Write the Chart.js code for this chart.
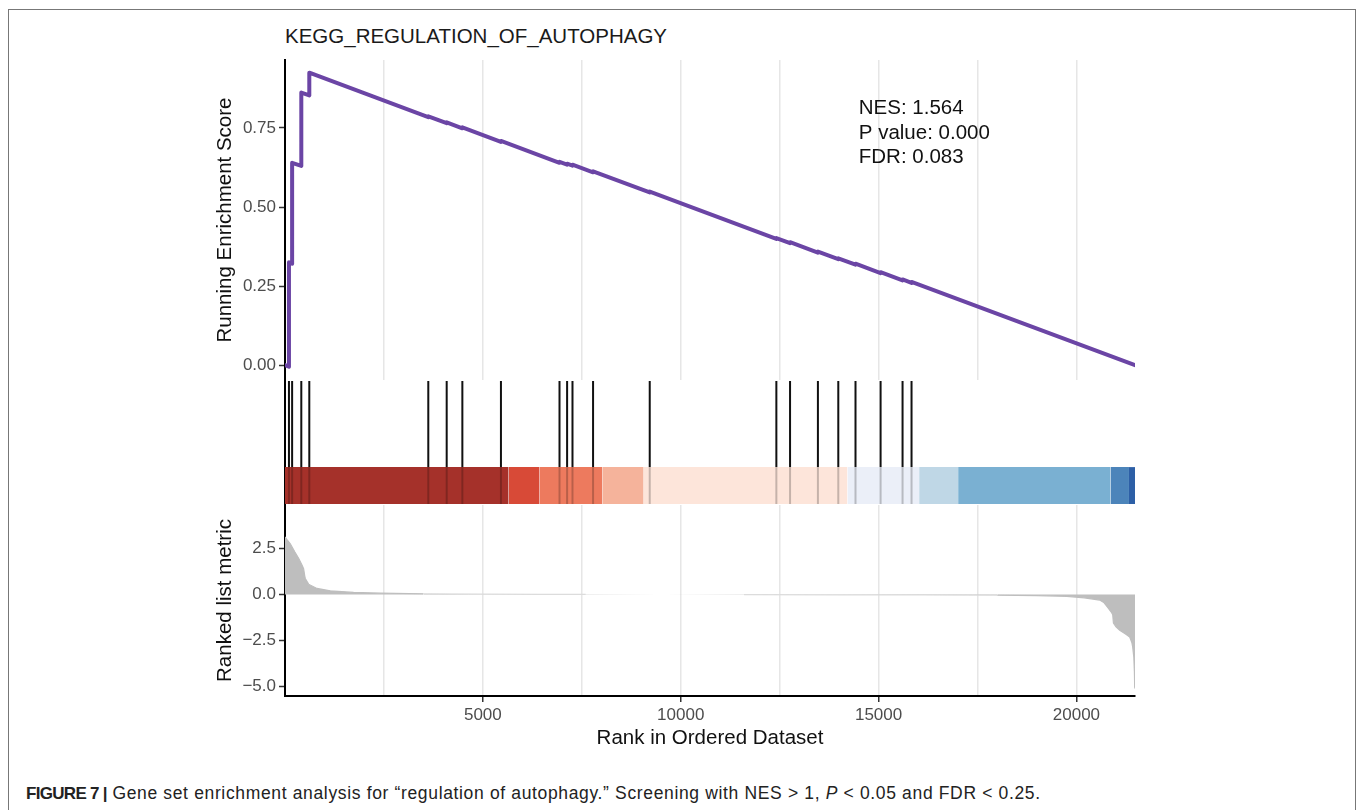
<!DOCTYPE html>
<html><head><meta charset="utf-8">
<script src="https://cdn.jsdelivr.net/npm/chart.js@4.4.0/dist/chart.umd.min.js"></script>
<style>
html,body{margin:0;padding:0;background:#fff;width:1360px;height:810px;overflow:hidden;font-family:'Liberation Sans',Arial,Helvetica,sans-serif;}
#frame{position:absolute;left:8px;top:9px;width:1348px;height:900px;border:1.5px solid #777;box-sizing:border-box;}
canvas{position:absolute;left:0;}
#title{position:absolute;left:285px;top:24px;font-size:20.5px;color:#1a1a1a;line-height:24px;white-space:nowrap;}
#caption{position:absolute;left:26px;top:783px;font-size:17.5px;letter-spacing:0.65px;color:#222;white-space:nowrap;line-height:20px;}
#caption b{font-size:17px;letter-spacing:-0.7px;}
</style></head>
<body>
<div id="frame"></div>
<div id="title">KEGG_REGULATION_OF_AUTOPHAGY</div>
<canvas id="c1" width="1360" height="400" style="top:0px"></canvas>
<canvas id="c2" width="1360" height="150" style="top:370px"></canvas>
<canvas id="c3" width="1360" height="300" style="top:480px"></canvas>
<div id="caption"><b>FIGURE 7 |</b> Gene set enrichment analysis for “regulation of autophagy.” Screening with NES &gt; 1, <i>P</i> &lt; 0.05 and FDR &lt; 0.25.</div>
<script>
// ---------- data ----------
const nGenes = 21480;
const hitRanks = [100, 180, 412, 614, 3621, 4086, 4482, 5457, 6937, 7129, 7265, 7785, 9217,
  12417, 12763, 13467, 13982, 14417, 15051, 15606, 15833];
const esRank = [0, 100, 100, 180, 180, 412, 412, 614, 614, 3621, 3621, 4086, 4086, 4482, 4482,
  5457, 5457, 6937, 6937, 7129, 7129, 7265, 7265, 7785, 7785, 9217, 9217, 12417, 12417,
  12763, 12763, 13467, 13467, 13982, 13982, 14417, 14417, 15051, 15051, 15606, 15606,
  15833, 15833, 21480];
const esValue = [0, -0.005, 0.325, 0.321, 0.640, 0.630, 0.862, 0.853, 0.925, 0.784, 0.787,
  0.765, 0.768, 0.749, 0.752, 0.706, 0.709, 0.640, 0.643, 0.634, 0.637, 0.631, 0.634,
  0.610, 0.613, 0.546, 0.549, 0.399, 0.402, 0.386, 0.389, 0.356, 0.359, 0.335, 0.338,
  0.318, 0.321, 0.291, 0.294, 0.268, 0.271, 0.260, 0.263, 0];
const barBreaks = [0, 5651, 6434, 8018, 9063, 14212, 16025, 17010, 20859, 21328, 21480];
const barColors = ['#a5312a', '#d84a37', '#ed7a5e', '#f5b39b', '#fde5da', '#ebeff8',
  '#bfd7e6', '#7ab0d2', '#4c84ba', '#2d5fa6'];
const metricRank = [0, 60, 134, 250, 344, 429, 470, 500, 513, 596, 808, 1144, 1732, 2406,
  3500, 5000, 6500, 7600, 9500, 11600, 14000, 16000, 18000, 19000, 19755, 20200, 20588,
  20700, 20790, 20880, 20917, 20935, 21000, 21094, 21250, 21346, 21400, 21422, 21450,
  21465, 21472, 21480];
const metricValue = [3.12, 2.95, 2.75, 2.3, 1.96, 1.6, 1.4, 1.0, 0.87, 0.56, 0.33, 0.2, 0.11,
  0.07, 0.04, 0.02, 0.012, 0.008, 0, -0.008, -0.015, -0.025, -0.04, -0.06, -0.1, -0.18,
  -0.3, -0.45, -0.7, -0.95, -1.1, -1.55, -1.75, -1.94, -2.15, -2.3, -2.6, -2.85, -3.4,
  -4.2, -5.0, -5.1];
const xTicks = [0, 2500, 5000, 7500, 10000, 12500, 15000, 17500, 20000];
const xLabelTicks = [5000, 10000, 15000, 20000];
const statLabels = ['NES: 1.564', 'P value: 0.000', 'FDR: 0.083'];
const statRank = 14500;
const statY = [0.813, 0.734, 0.658];

// ---------- styling ----------
Chart.defaults.font.family = "'Liberation Sans', Arial, Helvetica, sans-serif";
Chart.defaults.animation = false;
Chart.defaults.events = [];
Chart.defaults.plugins.legend.display = false;
Chart.defaults.plugins.tooltip.enabled = false;

const AXIS_W = 76, PAD_L = 209, PAD_R = 225;
const GRID = '#e6e6e6';
const CLEAR = 'rgba(0,0,0,0)';
const TICK_FONT = {size: 17};
const TITLE_FONT = {size: 20.5};
const setXTicks = s => { s.ticks = xTicks.map(v => ({value: v})); };
const isLabelled = v => xLabelTicks.includes(v);

function hiddenX() {
  return {
    type: 'linear', min: 0, max: nGenes,
    afterBuildTicks: setXTicks,
    ticks: {display: false, autoSkip: false},
    grid: {display: true, drawTicks: false, lineWidth: 1.5,
      color: c => (c.tick && c.tick.value === 0) ? CLEAR : GRID},
    border: {display: false},
    afterFit: s => { s.height = 0; }
  };
}

const statPlugin = {
  id: 'stats',
  afterDatasetsDraw(chart) {
    const {ctx, scales: {x, y}} = chart;
    ctx.save();
    ctx.fillStyle = '#111';
    ctx.font = "20.5px 'Liberation Sans', Arial, sans-serif";
    ctx.textAlign = 'left';
    ctx.textBaseline = 'middle';
    statLabels.forEach((t, i) => ctx.fillText(t, x.getPixelForValue(statRank), y.getPixelForValue(statY[i])));
    ctx.restore();
  }
};

// ---------- top panel: running enrichment score ----------
new Chart(document.getElementById('c1'), {
  type: 'line',
  data: {datasets: [{
    data: esRank.map((r, i) => ({x: r, y: esValue[i]})),
    borderColor: '#6b45a5', borderWidth: 4, pointRadius: 0, fill: false, tension: 0,
    borderJoinStyle: 'round', borderCapStyle: 'round'
  }]},
  options: {
    responsive: false,
    layout: {padding: {left: PAD_L, right: PAD_R, top: 60, bottom: 20}},
    scales: {
      x: hiddenX(),
      y: {
        type: 'linear', position: 'left', min: -0.047, max: 0.965,
        ticks: {stepSize: 0.25, includeBounds: false, color: '#4d4d4d', font: TICK_FONT, padding: 3,
          callback: v => v.toFixed(2)},
        grid: {drawOnChartArea: false, drawTicks: true, tickLength: 6, tickColor: '#333', tickWidth: 1.5},
        border: {display: true, color: '#000', width: 2},
        title: {display: true, text: 'Running Enrichment Score', color: '#111', font: TITLE_FONT,
          padding: {top: 4, bottom: 4}},
        afterFit: s => { s.width = AXIS_W; }
      }
    }
  },
  plugins: [statPlugin]
});

// ---------- middle panel: hits + colour bar ----------
const BAR_TOP = 0.3;
const hitFull = [], hitFaint = [];
hitRanks.forEach(r => {
  hitFull.push({x: r, y: 0}, {x: r, y: 1}, {x: r, y: null});
  hitFaint.push({x: r, y: 0}, {x: r, y: BAR_TOP}, {x: r, y: null});
});
const midSets = [
  {data: hitFull, borderColor: '#111', borderWidth: 2, pointRadius: 0, fill: false, spanGaps: false, order: 3},
  {data: hitFaint, borderColor: 'rgba(0,0,0,0.22)', borderWidth: 2, pointRadius: 0, fill: false, spanGaps: false, order: 1}
];
barColors.forEach((col, i) => {
  midSets.push({
    data: [{x: barBreaks[i], y: BAR_TOP}, {x: barBreaks[i + 1], y: BAR_TOP}],
    borderWidth: 0, borderColor: CLEAR, backgroundColor: col, pointRadius: 0, fill: 'origin', order: 2
  });
});
new Chart(document.getElementById('c2'), {
  type: 'line',
  data: {datasets: midSets},
  options: {
    responsive: false,
    layout: {padding: {left: PAD_L, right: PAD_R, top: 11, bottom: 16}},
    scales: {
      x: Object.assign(hiddenX(), {grid: {display: false}}),
      y: {
        type: 'linear', position: 'left', min: 0, max: 1,
        ticks: {display: false},
        grid: {display: false},
        border: {display: true, color: '#000', width: 2},
        afterFit: s => { s.width = AXIS_W; }
      }
    }
  }
});

// ---------- bottom panel: ranked list metric ----------
new Chart(document.getElementById('c3'), {
  type: 'line',
  data: {datasets: [{
    data: metricRank.map((r, i) => ({x: r, y: metricValue[i]})),
    backgroundColor: '#bebebe', fill: 'origin', pointRadius: 0, tension: 0, borderWidth: 1.2,
    borderColor: '#bebebe',
    segment: {
      borderColor: c => {
        const a = Math.abs(c.p0.parsed.y), b = Math.abs(c.p1.parsed.y);
        if (a < 0.005 || b < 0.005) return CLEAR;
        if (a < 0.05 && b < 0.05) return '#dcdcdc';
        return '#bebebe';
      }
    }
  }]},
  options: {
    responsive: false,
    layout: {padding: {left: PAD_L, right: PAD_R, top: 25, bottom: 24}},
    scales: {
      x: {
        type: 'linear', position: 'bottom', min: 0, max: nGenes,
        afterBuildTicks: setXTicks,
        ticks: {autoSkip: false, maxRotation: 0, color: '#4d4d4d', font: TICK_FONT, padding: 3,
          callback: v => isLabelled(v) ? String(v) : ''},
        grid: {lineWidth: 1.5, drawTicks: true, tickLength: 6, tickWidth: 1.5,
          color: c => (c.tick && c.tick.value === 0) ? CLEAR : GRID,
          tickColor: c => (c.tick && isLabelled(c.tick.value)) ? '#333' : CLEAR},
        border: {display: true, color: '#000', width: 2},
        title: {display: true, text: 'Rank in Ordered Dataset', color: '#111', font: TITLE_FONT,
          padding: {top: 4, bottom: 5}},
        afterFit: s => { s.height = 60; }
      },
      y: {
        type: 'linear', position: 'left', min: -5.5, max: 4.85,
        ticks: {stepSize: 2.5, includeBounds: false, color: '#4d4d4d', font: TICK_FONT, padding: 3,
          callback: v => (v < 0 ? '\u2212' : '') + Math.abs(v).toFixed(1)},
        grid: {drawOnChartArea: false, drawTicks: true, tickLength: 6, tickColor: '#333', tickWidth: 1.5},
        border: {display: true, color: '#000', width: 2},
        title: {display: true, text: 'Ranked list metric', color: '#111', font: TITLE_FONT,
          padding: {top: 4, bottom: 4}},
        afterFit: s => { s.width = AXIS_W; }
      }
    }
  }
});
</script>
</body></html>
